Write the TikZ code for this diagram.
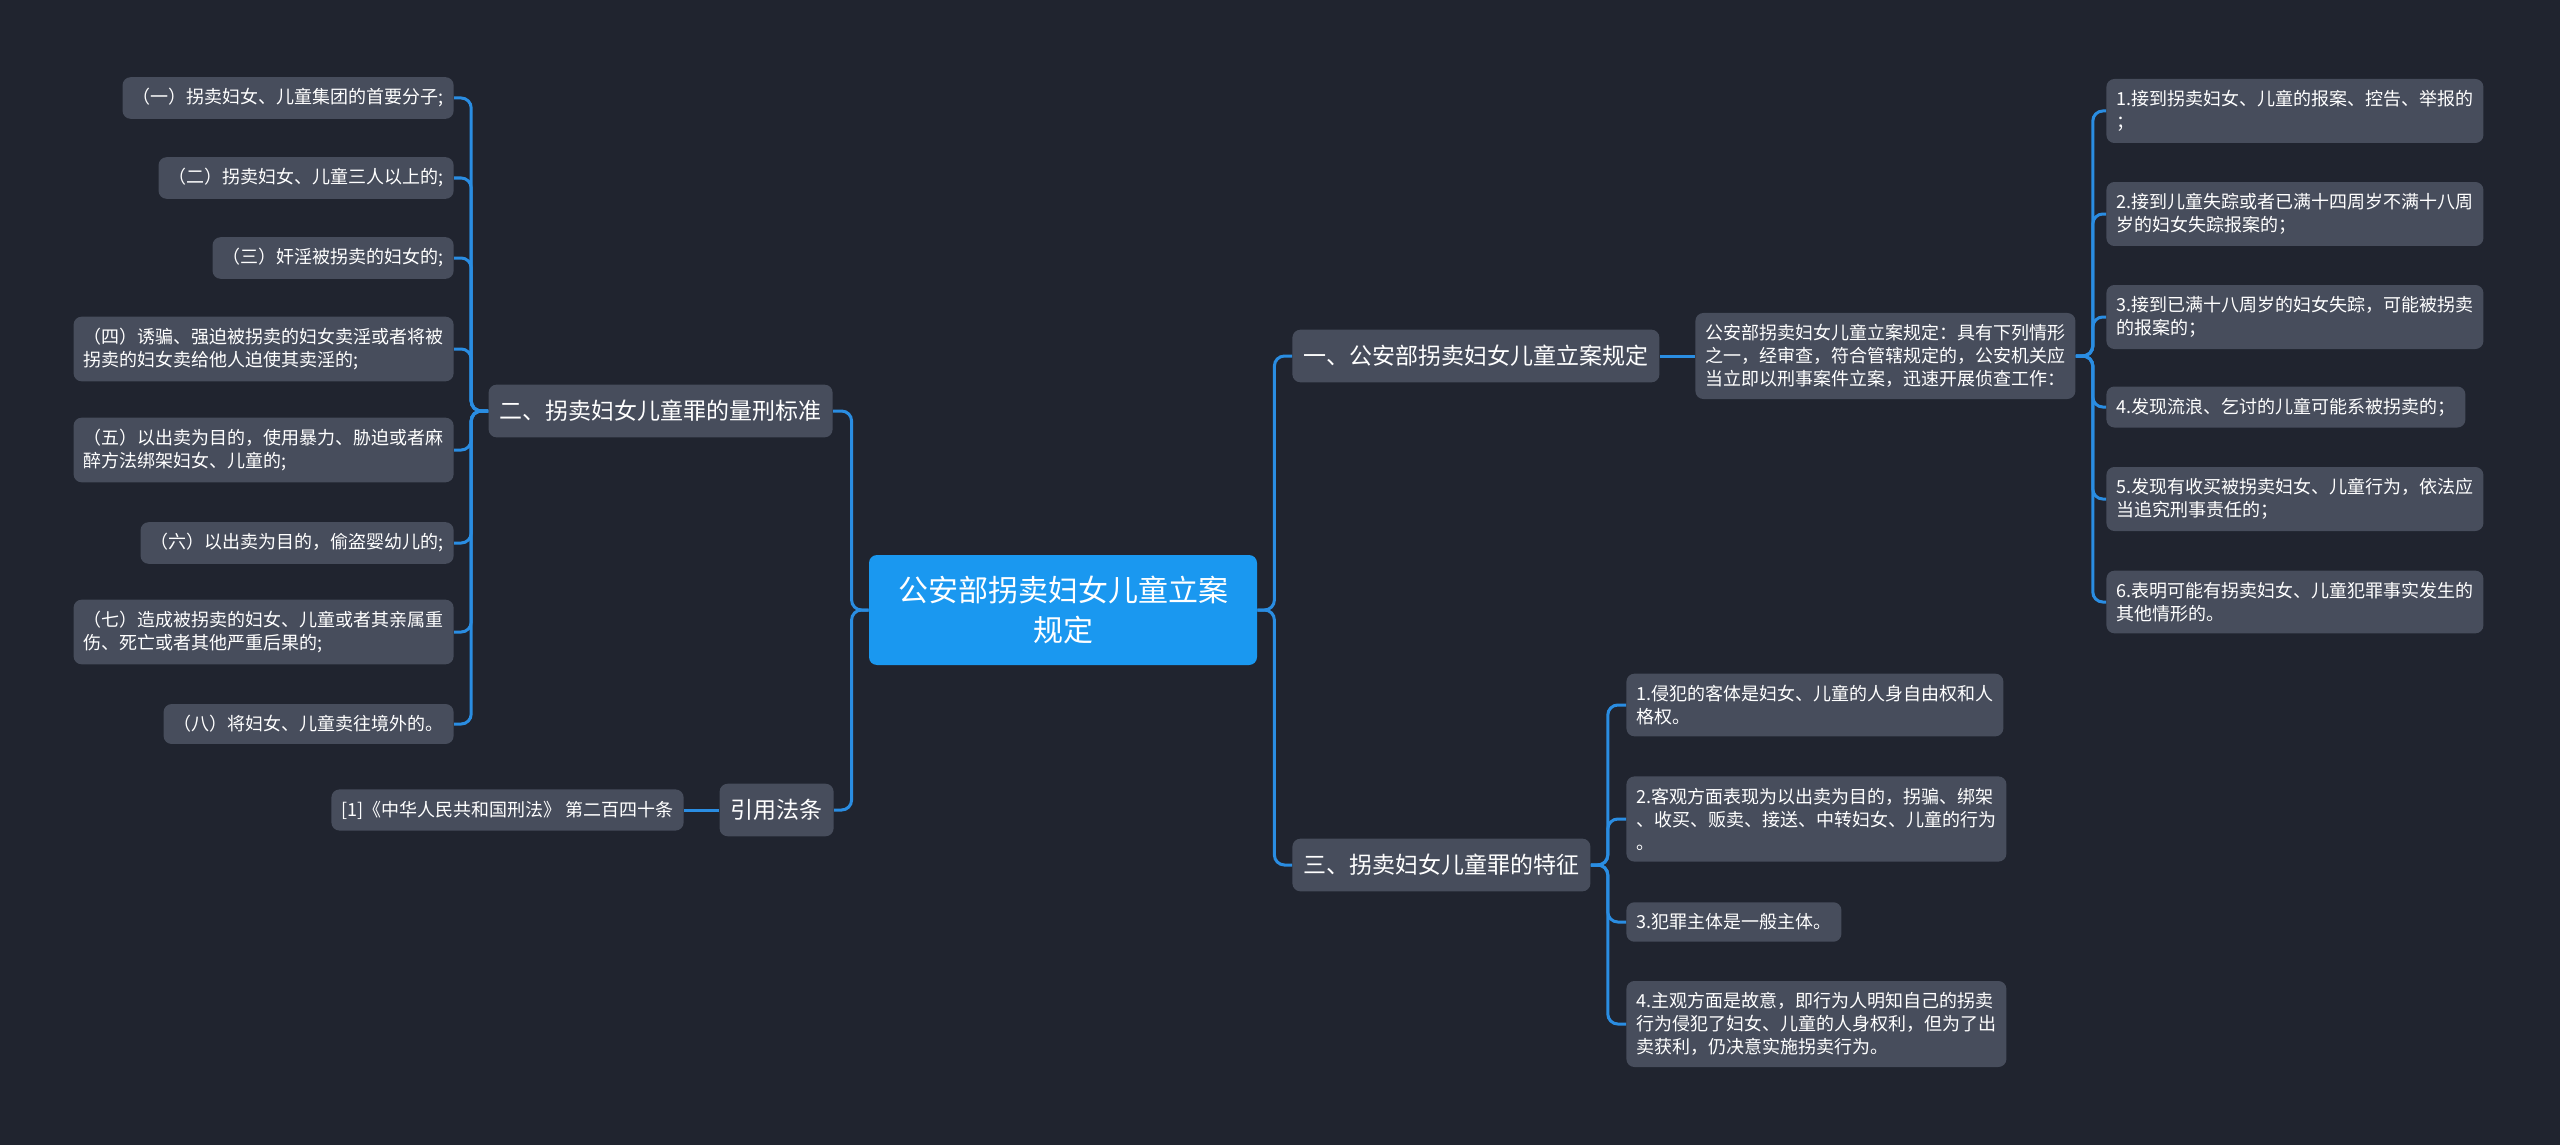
\documentclass[tikz,border=0pt]{standalone}
\usepackage{fontspec}
\setmainfont{Noto Sans CJK SC}
\usepackage{tikz}

\definecolor{bgc}{HTML}{20242F}
\definecolor{boxc}{HTML}{474D5C}
\definecolor{rootc}{HTML}{1A98F0}
\definecolor{linec}{HTML}{2A8DE2}

\begin{document}
\begin{tikzpicture}[x=0.5pt, y=-0.5pt]
        \tikzstyle{leaf} = [fill=boxc, rounded corners=4pt, text=white, align=left, inner xsep=5pt, inner ysep=5.7pt, font=\fontsize{9pt}{11.5pt}\selectfont]
        \tikzstyle{branch} = [fill=boxc, rounded corners=4pt, text=white, align=left, inner xsep=5.5pt, inner ysep=7.8pt, font=\fontsize{11.5pt}{14pt}\selectfont]
        \tikzstyle{topic} = [fill=rootc, rounded corners=4pt, text=white, align=center, minimum width=194pt, inner ysep=10.5pt, font=\fontsize{15pt}{20pt}\selectfont]
        \tikzstyle{link} = [draw=linec, line width=1.5pt, rounded corners=5pt]
        \fill[bgc] (0,0) rectangle (2560,1145);
        \useasboundingbox (0,0) rectangle (2560,1145);

        % centre
        \node[topic] (root) at (1063, 610) {公安部拐卖妇女儿童立案\\规定};

        % left side
        \node[branch, anchor=east] (b2) at (833, 411) {二、拐卖妇女儿童罪的量刑标准};
        \node[branch, anchor=east] (b4) at (834, 810) {引用法条};
        \node[leaf, anchor=east] (r1) at (684, 810) {[1]《中华人民共和国刑法》 第二百四十条};

        \node[leaf, anchor=east] (l1) at (454, 98) {（一）拐卖妇女、儿童集团的首要分子;};
        \node[leaf, anchor=east] (l2) at (454, 178) {（二）拐卖妇女、儿童三人以上的;};
        \node[leaf, anchor=east] (l3) at (454, 258) {（三）奸淫被拐卖的妇女的;};
        \node[leaf, anchor=east] (l4) at (454, 349) {（四）诱骗、强迫被拐卖的妇女卖淫或者将被\\拐卖的妇女卖给他人迫使其卖淫的;};
        \node[leaf, anchor=east] (l5) at (454, 450) {（五）以出卖为目的，使用暴力、胁迫或者麻\\醉方法绑架妇女、儿童的;};
        \node[leaf, anchor=east] (l6) at (454, 543) {（六）以出卖为目的，偷盗婴幼儿的;};
        \node[leaf, anchor=east] (l7) at (454, 632) {（七）造成被拐卖的妇女、儿童或者其亲属重\\伤、死亡或者其他严重后果的;};
        \node[leaf, anchor=east] (l8) at (454, 724) {（八）将妇女、儿童卖往境外的。};

        % right side
        \node[branch, anchor=west] (b1) at (1292, 356) {一、公安部拐卖妇女儿童立案规定};
        \node[leaf, anchor=west] (d1) at (1695, 356) {公安部拐卖妇女儿童立案规定：具有下列情形\\之一，经审查，符合管辖规定的，公安机关应\\当立即以刑事案件立案，迅速开展侦查工作：};
        \node[branch, anchor=west] (b3) at (1292, 865) {三、拐卖妇女儿童罪的特征};

        \node[leaf, anchor=west] (a1) at (2106, 111) {1.接到拐卖妇女、儿童的报案、控告、举报的\\；};
        \node[leaf, anchor=west] (a2) at (2106, 214) {2.接到儿童失踪或者已满十四周岁不满十八周\\岁的妇女失踪报案的；};
        \node[leaf, anchor=west] (a3) at (2106, 317) {3.接到已满十八周岁的妇女失踪，可能被拐卖\\的报案的；};
        \node[leaf, anchor=west] (a4) at (2106, 407) {4.发现流浪、乞讨的儿童可能系被拐卖的；};
        \node[leaf, anchor=west] (a5) at (2106, 499) {5.发现有收买被拐卖妇女、儿童行为，依法应\\当追究刑事责任的；};
        \node[leaf, anchor=west] (a6) at (2106, 602) {6.表明可能有拐卖妇女、儿童犯罪事实发生的\\其他情形的。};

        \node[leaf, anchor=west] (c1) at (1626, 705) {1.侵犯的客体是妇女、儿童的人身自由权和人\\格权。};
        \node[leaf, anchor=west] (c2) at (1626, 819) {2.客观方面表现为以出卖为目的，拐骗、绑架\\、收买、贩卖、接送、中转妇女、儿童的行为\\。};
        \node[leaf, anchor=west] (c3) at (1626, 922) {3.犯罪主体是一般主体。};
        \node[leaf, anchor=west] (c4) at (1626, 1024) {4.主观方面是故意，即行为人明知自己的拐卖\\行为侵犯了妇女、儿童的人身权利，但为了出\\卖获利，仍决意实施拐卖行为。};

        % connectors
        \draw[link] (root.west) -- ++(-17,0) |- (b2.east);
        \draw[link] (root.west) -- ++(-17,0) |- (b4.east);
        \draw[link] (b4.west) -- (r1.east);
        \foreach \n in {l1,l2,l3,l4,l5,l6,l7,l8}
          \draw[link] (b2.west) -- ++(-17,0) |- (\n.east);

        \draw[link] (root.east) -- ++(17,0) |- (b1.west);
        \draw[link] (root.east) -- ++(17,0) |- (b3.west);
        \draw[link] (b1.east) -- (d1.west);
        \foreach \n in {a1,a2,a3,a4,a5,a6}
          \draw[link] (d1.east) -- ++(17,0) |- (\n.west);
        \foreach \n in {c1,c2,c3,c4}
          \draw[link] (b3.east) -- ++(17,0) |- (\n.west);
      \end{tikzpicture}
\end{document}
